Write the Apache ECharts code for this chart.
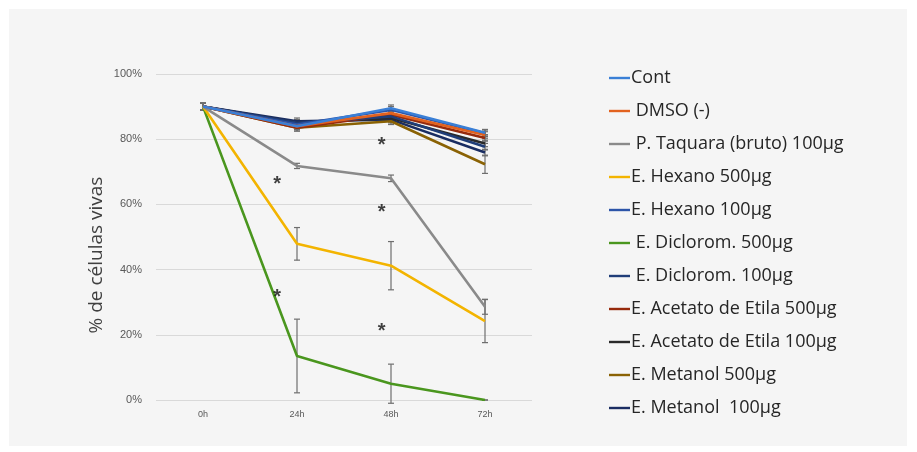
<!DOCTYPE html>
<html>
<head>
<meta charset="utf-8">
<script src="https://cdn.jsdelivr.net/npm/echarts@6/dist/echarts.min.js"></script>
<style>
  html, body { margin: 0; padding: 0; background: #fff; }
  #chart { width: 917px; height: 452px; }
</style>
</head>
<body>
<div id="chart"></div>
<script>
// horários
const categories = ['0h', '24h', '48h', '72h']

// % de células vivas
const cont = [90, 84, 89.5, 82]
const dmso = [90, 84, 88, 81.3]
const taquara = [90, 71.8, 68, 28.6]
const hexano500 = [90, 47.9, 41.2, 24.2]
const hexano100 = [90, 84.5, 89, 81.8]
const diclorom500 = [90, 13.5, 5, 0]
const diclorom100 = [90, 85, 87, 77.7]
const acetato500 = [90, 83.5, 87.5, 80.4]
const acetato100 = [90, 85, 86.5, 78.7]
const metanol500 = [90, 83.5, 85.5, 72.3]
const metanol100 = [90, 85.5, 86, 75.9]

// desvios (barras de erro)
const errCont = [1, 1, 1, 1]
const errTaquara = [1, 0.8, 1, 2.3]
const errHexano500 = [1, 5, 7.4, 6.6]
const errDiclorom500 = [1, 11.3, 6, 0]
const errMetanol500 = [1, 1, 1, 2.8]

// asteriscos (posição x em unidades de categoria, valor em %)
const starX = [0.79, 1.9, 1.9, 0.79, 1.9]
const starY = [66.6, 78.6, 58, 32, 21.5]

const yTicks = [0, 20, 40, 60, 80, 100]

const series = [
  { name: 'Cont', data: cont, color: '#3a7fd6', err: errCont },
  { name: ' DMSO (-)', data: dmso, color: '#e2621f', err: errCont },
  { name: ' P. Taquara (bruto) 100µg', data: taquara, color: '#8a8a8a', err: errTaquara },
  { name: 'E. Hexano 500µg', data: hexano500, color: '#f3b400', err: errHexano500 },
  { name: 'E. Hexano 100µg', data: hexano100, color: '#2c54a8', err: errCont },
  { name: ' E. Diclorom. 500µg', data: diclorom500, color: '#4a961e', err: errDiclorom500 },
  { name: ' E. Diclorom. 100µg', data: diclorom100, color: '#1f3d78', err: errCont },
  { name: 'E. Acetato de Etila 500µg', data: acetato500, color: '#962a0c', err: errCont },
  { name: 'E. Acetato de Etila 100µg', data: acetato100, color: '#2a2a2a', err: errCont },
  { name: 'E. Metanol 500µg', data: metanol500, color: '#8a6204', err: errMetanol500 },
  { name: 'E. Metanol  100µg', data: metanol100, color: '#1a2d62', err: errCont }
]

const myChart = echarts.init(document.getElementById('chart'))

function errorBarItem(params, api) {
  const x = api.value(0)
  const hi = api.coord([x, api.value(1)])
  const lo = api.coord([x, api.value(2)])
  const w = 3
  const style = { stroke: '#6e6e6e', lineWidth: 1.2 }
  return {
    type: 'group',
    children: [
      { type: 'line', shape: { x1: hi[0], y1: hi[1], x2: lo[0], y2: lo[1] }, style },
      { type: 'line', shape: { x1: hi[0] - w, y1: hi[1], x2: hi[0] + w, y2: hi[1] }, style },
      { type: 'line', shape: { x1: lo[0] - w, y1: lo[1], x2: lo[0] + w, y2: lo[1] }, style }
    ]
  }
}

const chartSeries = []
// barras de erro primeiro (atrás das linhas)
series.forEach(s => {
  chartSeries.push({
    type: 'custom',
    renderItem: errorBarItem,
    data: s.data.map((v, i) => [i, v + s.err[i], v - s.err[i]]),
    z: 1,
    silent: true
  })
})
series.slice().reverse().forEach(s => {
  chartSeries.push({
    name: s.name,
    type: 'line',
    data: s.data,
    color: s.color,
    symbol: 'none',
    lineStyle: { width: 2.6, color: s.color },
    z: 2
  })
})
chartSeries.push({
  type: 'scatter',
  xAxisIndex: 1,
  data: starX.map((x, i) => [x, starY[i]]),
  symbolSize: 1,
  itemStyle: { color: 'rgba(0,0,0,0)' },
  label: {
    show: true,
    position: 'inside',
    formatter: '*',
    color: '#111',
    fontSize: 20,
    fontWeight: 'bold',
    offset: [0, 2]
  },
  z: 3
})

myChart.setOption({
  animation: false,
  backgroundColor: '#ffffff',
  graphic: [
    {
      type: 'rect',
      left: 9,
      top: 9,
      shape: { width: 898, height: 437 },
      style: { fill: '#f5f5f5' },
      z: -10
    }
  ],
  grid: { left: 156, right: 385, top: 74, bottom: 52 },
  legend: {
    orient: 'vertical',
    left: 604,
    top: 63,
    itemWidth: 21,
    itemHeight: 10,
    itemGap: 13,
    icon: 'rect',
    data: series.map(s => ({ name: s.name, icon: 'path://M0,4h21v2.4h-21z' })),
    textStyle: { fontSize: 18, color: '#262626', lineHeight: 20, fontFamily: 'Open Sans', padding: [0, 0, 0, -4] }
  },
  xAxis: [
    {
      type: 'category',
      data: categories,
      boundaryGap: true,
      axisLine: { show: false },
      axisTick: { show: false },
      axisLabel: { fontSize: 9, color: '#595959', margin: 10 }
    },
    {
      type: 'value',
      min: -0.5,
      max: 3.5,
      show: false
    }
  ],
  yAxis: {
    type: 'value',
    min: 0,
    max: 100,
    interval: 20,
    name: '% de células vivas',
    nameLocation: 'middle',
    nameGap: 50,
    nameTextStyle: { fontSize: 19, color: '#404040', fontFamily: 'Open Sans', padding: [0, 36, 0, 0] },
    axisLine: { show: false },
    axisTick: { show: false },
    axisLabel: {
      fontSize: 11,
      color: '#595959',
      margin: 14,
      formatter: v => (yTicks.indexOf(v) >= 0 ? v + '%' : '')
    },
    splitLine: { lineStyle: { color: '#d9d9d9', width: 1 } }
  },
  series: chartSeries
})
</script>
</body>
</html>
